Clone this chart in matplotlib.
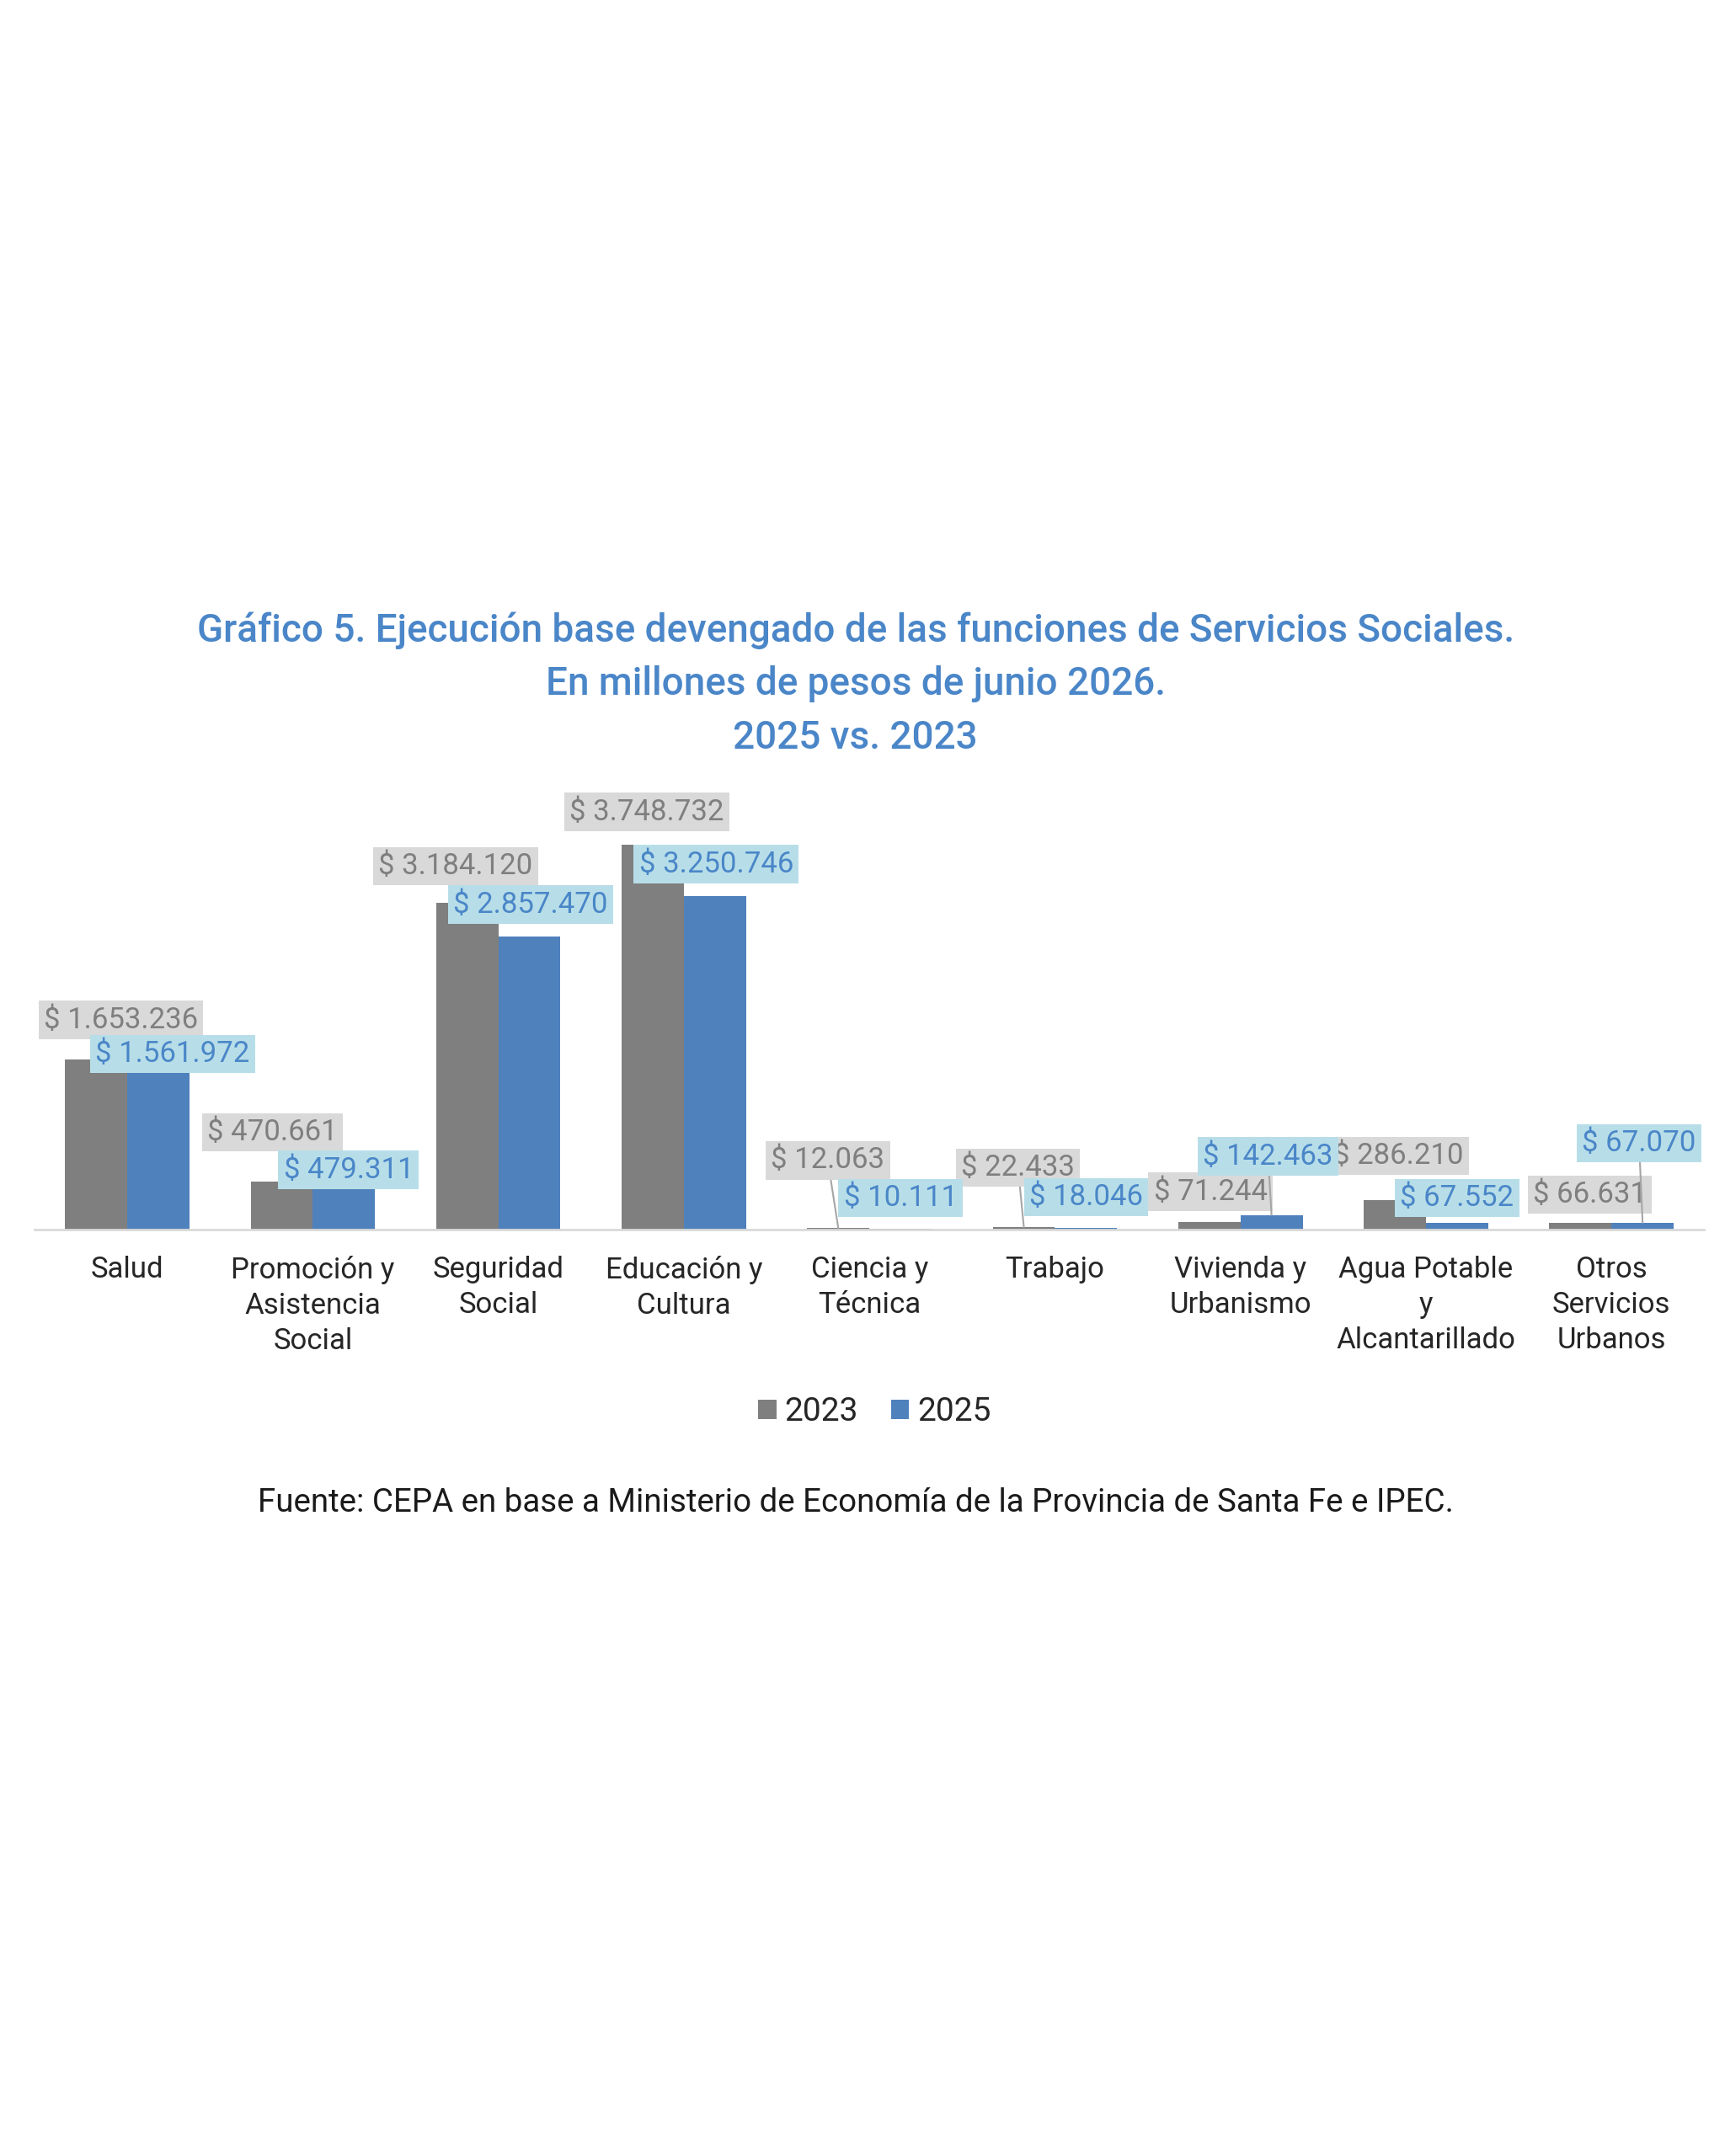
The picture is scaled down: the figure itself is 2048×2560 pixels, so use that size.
import matplotlib
matplotlib.use('Agg')
import matplotlib.pyplot as plt
import numpy as np

plt.rcParams['font.family'] = ['Roboto', 'DejaVu Sans']

# data (millones de pesos de junio 2026)
categorias = ['Salud', 'Promoción y\nAsistencia\nSocial', 'Seguridad\nSocial',
              'Educación y\nCultura', 'Ciencia y\nTécnica', 'Trabajo',
              'Vivienda y\nUrbanismo', 'Agua Potable\ny\nAlcantarillado',
              'Otros\nServicios\nUrbanos']
valores_2023 = [1653236, 470661, 3184120, 3748732, 12063, 22433, 71244, 286210, 66631]
valores_2025 = [1561972, 479311, 2857470, 3250746, 10111, 18046, 142463, 67552, 67070]

# label offsets in points (dx, dy) from the top of each bar, plus leader flag
off_2023 = [(21, 34), (-8, 42), (-10, 31), (-5, 28), (-9, 58), (-5, 51), (1, 26), (3, 38), (8, 24)]
off_2025 = [(12, 13), (4, 9), (1, 27), (1, 27), (0, 26), (0, 26), (-3, 50), (0, 21), (-3, 68)]
lead_2023 = [False, False, False, False, True, True, False, False, False]
lead_2025 = [False, False, False, False, False, False, True, False, True]

GRAY = '#7f7f7f'
BLUE = '#4f81bd'
TITLE_BLUE = '#4a86c8'


def fmt(v):
    return '$ ' + f'{v:,}'.replace(',', '.')


fig = plt.figure(figsize=(20.48, 25.6), dpi=100)
ax = fig.add_axes([0.020, 0.4297, 0.968, 0.2143])

x = np.arange(len(categorias))
w = 0.335
b1 = ax.bar(x - w / 2, valores_2023, w, color=GRAY, label='2023', zorder=2)
b2 = ax.bar(x + w / 2, valores_2025, w, color=BLUE, label='2025', zorder=2)

ax.set_xlim(-0.5, len(categorias) - 0.5)
ax.set_ylim(0, 4500000)
for s in ['top', 'right', 'left']:
    ax.spines[s].set_visible(False)
ax.spines['bottom'].set_color('#d9d9d9')
ax.spines['bottom'].set_linewidth(2)
ax.set_yticks([])
ax.set_xticks(x)
ax.set_xticklabels(categorias, fontsize=25, color='#262626', linespacing=1.36)
ax.tick_params(axis='x', length=0, pad=22)


def etiquetas(bars, vals, offs, leads, bg, fg, z):
    for bar, v, (dx, dy), lead in zip(bars, vals, offs, leads):
        xc = bar.get_x() + bar.get_width() / 2
        arrow = None
        if lead:
            arrow = dict(arrowstyle='-', color='#a6a6a6', lw=1.5, shrinkA=0, shrinkB=0)
        ax.annotate(fmt(v), xy=(xc, v), xytext=(dx, dy), textcoords='offset points',
                    ha='center', va='center', fontsize=25, color=fg,
                    bbox=dict(boxstyle='square,pad=0.18', fc=bg, ec='none'),
                    arrowprops=arrow, zorder=z, annotation_clip=False)


etiquetas(b1, valores_2023, off_2023, lead_2023, '#d9d9d9', GRAY, 5)
etiquetas(b2, valores_2025, off_2025, lead_2025, '#b7dee8', '#4a86c8', 6)

# title
titulo = ['Gráfico 5. Ejecución base devengado de las funciones de Servicios Sociales.',
          'En millones de pesos de junio 2026.',
          '2025 vs. 2023']
for linea, yy in zip(titulo, [0.7074, 0.6828, 0.6578]):
    fig.text(0.496, yy, linea, ha='center', va='center', fontsize=33,
             color=TITLE_BLUE, fontweight='medium')

fig.legend(handles=[b1, b2], labels=['2023', '2025'], loc='center',
           bbox_to_anchor=(0.507, 0.345), ncol=2, frameon=False, fontsize=28,
           handlelength=0.55, handleheight=0.55, handletextpad=0.25,
           columnspacing=1.0, labelcolor='#262626')

fig.text(0.496, 0.303,
         'Fuente: CEPA en base a Ministerio de Economía de la Provincia de Santa Fe e IPEC.',
         ha='center', va='center', fontsize=27.7, color='#1a1a1a')

fig.savefig('out.png', dpi=100, facecolor='white')
